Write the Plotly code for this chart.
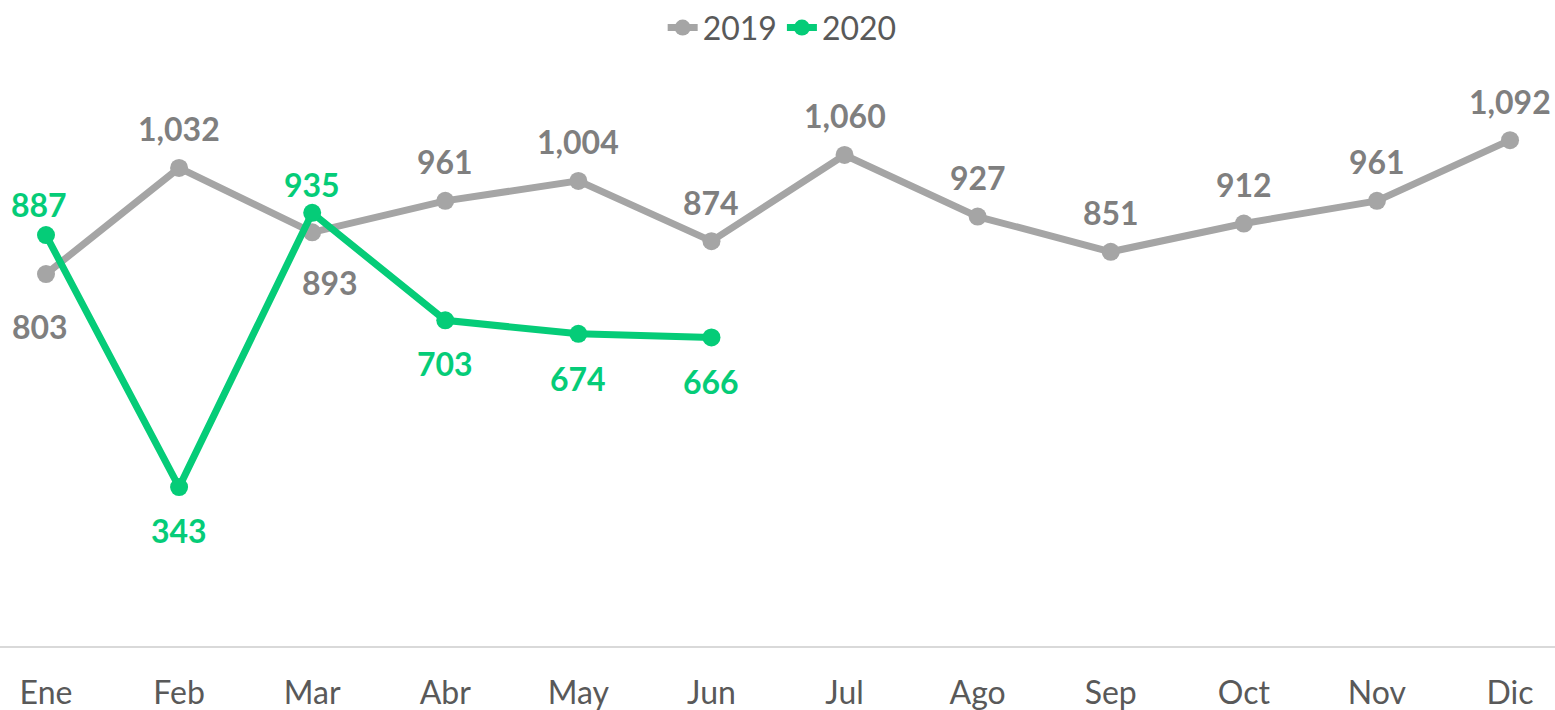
import plotly.graph_objects as go

# Monthly totals
months = ["Ene", "Feb", "Mar", "Abr", "May", "Jun", "Jul", "Ago", "Sep", "Oct", "Nov", "Dic"]
values_2019 = [803, 1032, 893, 961, 1004, 874, 1060, 927, 851, 912, 961, 1092]
values_2020 = [887, 343, 935, 703, 674, 666]

GRAY_LINE = "#A5A5A5"
GRAY_TEXT = "#7F7F7F"
GREEN = "#05CC78"
FONT = "Lato"

# label placement (pixel shifts from each point: dx, dy)
shift_2019 = [(-6, -52), (0, 39), (18, -50), (0, 39), (0, 39), (0, 39),
              (0, 39), (0, 39), (0, 39), (0, 39), (0, 39), (0, 39)]
shift_2020 = [(-7, 31), (0, -43), (0, 28), (0, -43), (0, -45), (0, -44)]

xs_2019 = list(range(len(values_2019)))
xs_2020 = list(range(len(values_2020)))

fig = go.Figure()
fig.add_trace(go.Scatter(
    x=xs_2019, y=values_2019, name="2019", mode="lines+markers",
    line=dict(color=GRAY_LINE, width=7), marker=dict(color=GRAY_LINE, size=18),
))
fig.add_trace(go.Scatter(
    x=xs_2020, y=values_2020, name="2020", mode="lines+markers",
    line=dict(color=GREEN, width=7), marker=dict(color=GREEN, size=18),
))

annotations = []
for xs, vals, shifts, color in [(xs_2019, values_2019, shift_2019, GRAY_TEXT),
                                (xs_2020, values_2020, shift_2020, GREEN)]:
    for x, v, (dx, dy) in zip(xs, vals, shifts):
        annotations.append(dict(
            x=x, y=v, xref="x", yref="y", text=f"<b>{v:,}</b>", showarrow=False,
            xshift=dx, yshift=dy, xanchor="center", yanchor="middle",
            font=dict(family=FONT, size=32, color=color),
        ))

fig.update_layout(
    width=1555, height=710,
    margin=dict(l=0, r=0, t=60, b=64),
    paper_bgcolor="white", plot_bgcolor="white",
    font=dict(family=FONT, color="#595959"),
    showlegend=True,
    legend=dict(orientation="h", x=0.503, xanchor="center", y=1.008, yanchor="bottom",
                font=dict(family=FONT, size=32, color="#595959"),
                itemwidth=30, tracegroupgap=0),
    annotations=annotations,
    hovermode=False,
)
fig.update_xaxes(
    range=[-0.3456, 11.338], tickmode="array", tickvals=list(range(len(months))),
    ticktext=months, showgrid=False, zeroline=False,
    showline=True, linecolor="#D9D9D9", linewidth=2,
    tickfont=dict(family=FONT, size=32, color="#595959"), ticks="",
    ticklabelstandoff=18,
)
fig.update_yaxes(range=[0, 1265], visible=False, showgrid=False, zeroline=False)

fig.write_html("out.html")
